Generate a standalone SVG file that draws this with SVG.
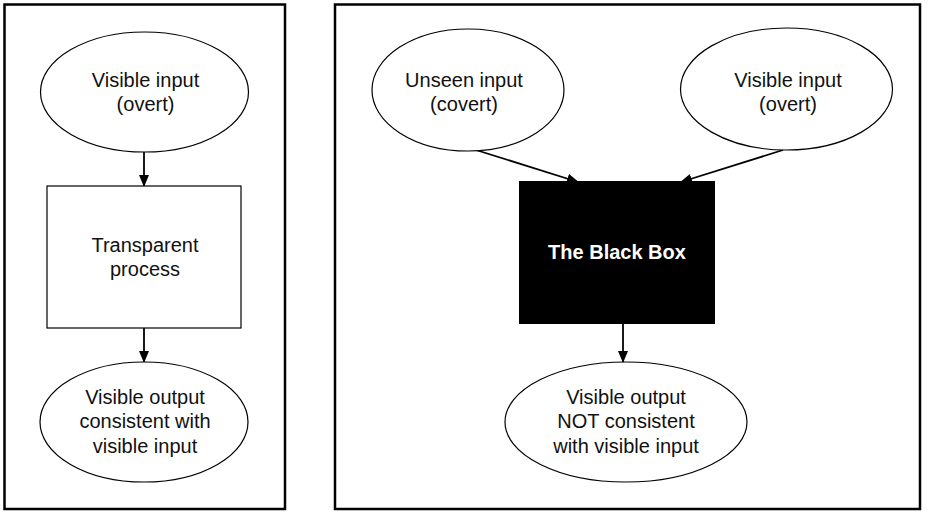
<svg xmlns="http://www.w3.org/2000/svg" width="928" height="514" viewBox="0 0 928 514">
<defs>
<style>
.frame{fill:#fff;stroke:#000;stroke-width:2.5}
.node{fill:#fff;stroke:#000;stroke-width:1.2}
.t{font-family:"Liberation Sans",Arial,sans-serif;font-size:20px;fill:#111;text-anchor:middle}
.tb{font-family:"Liberation Sans",Arial,sans-serif;font-size:20px;font-weight:bold;fill:#fff;text-anchor:middle}
.edge{stroke:#000;stroke-width:1.8;fill:none;marker-end:url(#ah)}
</style>
<marker id="ah" markerWidth="12" markerHeight="10" refX="11" refY="5" orient="auto" markerUnits="userSpaceOnUse">
<path d="M0,0 L12,5 L0,10 Z" fill="#000"/>
</marker>
</defs>
<rect width="928" height="514" fill="#fff"/>
<g id="frames">
<rect class="frame" x="4.5" y="4.5" width="280.5" height="504.5"/>
<rect class="frame" x="335" y="4.5" width="585" height="504.5"/>
</g>
<g id="connectors">
<line class="edge" x1="144" y1="152" x2="144" y2="186"/>
<line class="edge" x1="144" y1="328" x2="144" y2="362"/>
<line class="edge" x1="476" y1="150" x2="578" y2="182"/>
<line class="edge" x1="783" y1="150" x2="681" y2="182"/>
<line class="edge" x1="623" y1="324" x2="623" y2="362"/>
</g>
<g id="n-visible-input-left">
<ellipse class="node" cx="144.5" cy="92" rx="104" ry="60"/>
<text class="t" x="145.5" y="87">Visible input</text>
<text class="t" x="145.5" y="111">(overt)</text>
</g>
<g id="n-transparent">
<rect class="node" x="47" y="186" width="194" height="142"/>
<text class="t" x="145" y="252">Transparent</text>
<text class="t" x="145" y="276">process</text>
</g>
<g id="n-visible-output-left">
<ellipse class="node" cx="144" cy="422" rx="104" ry="60"/>
<text class="t" x="145" y="404">Visible output</text>
<text class="t" x="145" y="428">consistent with</text>
<text class="t" x="145" y="453">visible input</text>
</g>
<g id="n-unseen-input">
<ellipse class="node" cx="468" cy="90" rx="96" ry="61"/>
<text class="t" x="464" y="87">Unseen input</text>
<text class="t" x="464" y="111">(covert)</text>
</g>
<g id="n-visible-input-right">
<ellipse class="node" cx="786.5" cy="89" rx="106" ry="61"/>
<text class="t" x="788" y="87">Visible input</text>
<text class="t" x="788" y="111">(overt)</text>
</g>
<g id="n-black-box">
<rect x="519" y="181" width="196" height="143" fill="#000"/>
<text class="tb" x="617" y="259">The Black Box</text>
</g>
<g id="n-visible-output-right">
<ellipse class="node" cx="626" cy="422" rx="121" ry="60"/>
<text class="t" x="626" y="404">Visible output</text>
<text class="t" x="626" y="428">NOT consistent</text>
<text class="t" x="626" y="453">with visible input</text>
</g>
</svg>
